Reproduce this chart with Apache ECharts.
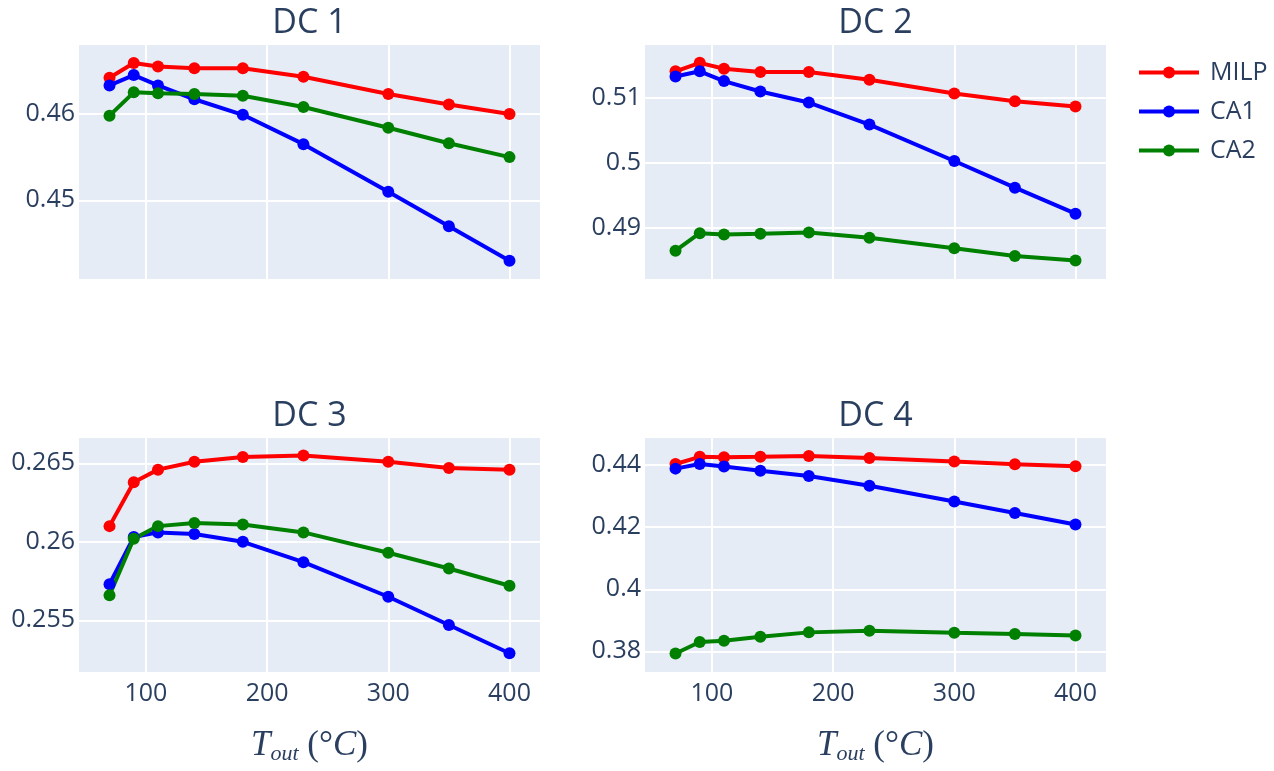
<!DOCTYPE html>
<html>
<head>
<meta charset="utf-8">
<script src="https://cdn.jsdelivr.net/npm/echarts@6/dist/echarts.min.js"></script>
<style>
  html, body { margin: 0; padding: 0; background: #fff; }
  #chart { width: 1274px; height: 771px; }
</style>
</head>
<body>
<div id="chart"></div>
<script>
// outlet temperature (°C)
const tOut = [70, 90, 110, 140, 180, 230, 300, 350, 400];
const seriesNames = ['MILP', 'CA1', 'CA2'];
const panelTitles = ['DC 1', 'DC 2', 'DC 3', 'DC 4'];
const xTicks = [100, 200, 300, 400];

// DC 1
const dc1Milp = [0.4642, 0.4659, 0.4655, 0.4653, 0.4653, 0.4643, 0.4623, 0.4611, 0.4600];
const dc1Ca1 = [0.4633, 0.4645, 0.4633, 0.4617, 0.4599, 0.4565, 0.4510, 0.4470, 0.4430];
const dc1Ca2 = [0.4598, 0.4625, 0.4624, 0.4623, 0.4621, 0.4608, 0.4584, 0.4566, 0.4550];

// DC 2
const dc2Milp = [0.5141, 0.5154, 0.5145, 0.5140, 0.5140, 0.5128, 0.5107, 0.5095, 0.5087];
const dc2Ca1 = [0.5133, 0.5141, 0.5126, 0.5110, 0.5093, 0.5059, 0.5003, 0.4962, 0.4922];
const dc2Ca2 = [0.4865, 0.4892, 0.4890, 0.4891, 0.4893, 0.4885, 0.4869, 0.4857, 0.4850];

// DC 3
const dc3Milp = [0.2610, 0.2638, 0.2646, 0.2651, 0.2654, 0.2655, 0.2651, 0.2647, 0.2646];
const dc3Ca1 = [0.2573, 0.2603, 0.2606, 0.2605, 0.2600, 0.2587, 0.2565, 0.2547, 0.2529];
const dc3Ca2 = [0.2566, 0.2602, 0.2610, 0.2612, 0.2611, 0.2606, 0.2593, 0.2583, 0.2572];

// DC 4
const dc4Milp = [0.4404, 0.4427, 0.4426, 0.4427, 0.4430, 0.4423, 0.4412, 0.4403, 0.4397];
const dc4Ca1 = [0.4389, 0.4404, 0.4396, 0.4382, 0.4365, 0.4334, 0.4283, 0.4246, 0.4209];
const dc4Ca2 = [0.3793, 0.3830, 0.3834, 0.3847, 0.3861, 0.3866, 0.3860, 0.3856, 0.3851];

const panels = [
  [dc1Milp, dc1Ca1, dc1Ca2],
  [dc2Milp, dc2Ca1, dc2Ca2],
  [dc3Milp, dc3Ca1, dc3Ca2],
  [dc4Milp, dc4Ca1, dc4Ca2]
];

const colors = ['#ff0000', '#0000ff', '#008000'];
const textColor = '#2a3f5f';
const font = '"Open Sans", "Liberation Sans", sans-serif';
const mathFont = '"Liberation Serif", serif';

// plot boxes
const boxes = [
  { left: 78, top: 44 },
  { left: 644, top: 44 },
  { left: 78, top: 437 },
  { left: 644, top: 437 }
];
const boxW = 463, boxH = 236;
const yRanges = [[0.44077, 0.4681], [0.4820, 0.5183], [0.25164, 0.26668], [0.3730, 0.4491]];
const ySplits = [2, 3, 3, 4];

let myChart = echarts.init(document.getElementById('chart'));

const grid = boxes.map((b) => ({
  left: b.left, top: b.top, width: boxW, height: boxH,
  show: true, backgroundColor: '#E5ECF6', borderWidth: 0, containLabel: false
}));

const xAxis = boxes.map((b, i) => ({
  type: 'value', gridIndex: i, min: 44, max: 426, splitNumber: 4,
  axisLine: { show: false }, axisTick: { show: false },
  splitLine: { show: true, lineStyle: { color: '#ffffff', width: 2 } },
  axisLabel: {
    show: i >= 2, showMinLabel: false, showMaxLabel: false, margin: 8,
    color: textColor, fontSize: 25, fontFamily: font,
    formatter: (v) => (xTicks.includes(Math.round(v)) ? String(Math.round(v)) : '')
  },
  name: i >= 2 ? '{t|T}{s|out}{p| (°}{c|C}{p|)}' : '',
  nameLocation: 'middle', nameGap: 54,
  nameTextStyle: {
    rich: {
      t: { fontFamily: mathFont, fontStyle: 'italic', fontSize: 35, color: textColor },
      s: { fontFamily: mathFont, fontStyle: 'italic', fontSize: 22, color: textColor, padding: [16, 0, 0, 0] },
      p: { fontFamily: mathFont, fontSize: 35, color: textColor },
      c: { fontFamily: mathFont, fontStyle: 'italic', fontSize: 35, color: textColor }
    }
  }
}));

const yAxis = boxes.map((b, i) => ({
  type: 'value', gridIndex: i, min: yRanges[i][0], max: yRanges[i][1], splitNumber: ySplits[i],
  axisLine: { show: false }, axisTick: { show: false },
  splitLine: { show: true, lineStyle: { color: '#ffffff', width: 2 } },
  axisLabel: {
    showMinLabel: false, showMaxLabel: false, margin: 3,
    color: textColor, fontSize: 25, fontFamily: font,
    formatter: (v) => String(+v.toFixed(4))
  }
}));

const title = panelTitles.map((t, i) => ({
  text: t, left: boxes[i].left + boxW / 2, top: boxes[i].top - 38, textAlign: 'center', padding: 0,
  textStyle: { color: textColor, fontSize: 34, fontWeight: 'normal', fontFamily: font }
}));

const series = [];
panels.forEach((vals, i) => {
  vals.forEach((ys, j) => {
    series.push({
      type: 'line', name: seriesNames[j], xAxisIndex: i, yAxisIndex: i,
      data: tOut.map((x, k) => [x, ys[k]]),
      symbol: 'circle', symbolSize: 12, showSymbol: true,
      lineStyle: { width: 4, color: colors[j] },
      itemStyle: { color: colors[j] },
      emphasis: { disabled: true }
    });
  });
});

const option = {
  animation: false,
  color: colors,
  title: title,
  legend: {
    data: seriesNames, orient: 'vertical', left: 1137, top: 60, padding: 0,
    itemWidth: 60, itemHeight: 15, itemGap: 14,
    lineStyle: { width: 4 },
    textStyle: { color: textColor, fontSize: 25, fontFamily: font, padding: [0, 0, 0, 6] }
  },
  grid: grid,
  xAxis: xAxis,
  yAxis: yAxis,
  series: series
};
myChart.setOption(option);
</script>
</body>
</html>
